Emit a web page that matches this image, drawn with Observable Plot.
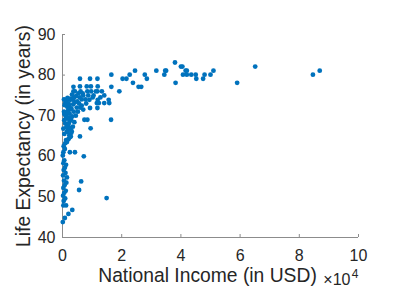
<!DOCTYPE html>
<html><head><meta charset="utf-8">
<script src="https://cdn.jsdelivr.net/npm/d3@7"></script>
<script src="https://cdn.jsdelivr.net/npm/@observablehq/plot@0.6"></script>
<style>
body{margin:0;background:#fff}
#c{width:407px;height:306px}
</style>
</head><body><div id="c"></div>
<script>
// National income (USD) and life expectancy (years)
const income = [
  100,800,2000,3300,1200,300,400,900,200,600,1100,300,700,1300,500,1500,200,1000,400,800,1200,300,600,100,
  300,2500,4200,7200,6300,5600,14900,800,400,900,1200,2500,600,1500,300,1800,900,600,2200,1300,500,2800,1600,900,
  3600,800,1700,2600,
  1500,2000,2300,3000,1800,2700,3500,2100,4000,2900,1600,3300,4500,2400,3800,1900,3000,4800,2200,3600,1400,4200,
  5000,2800,3900,4600,3200,5400,3700,4200,5600,6000,5200,6500,7000,5800,
  700,1100,1900,2400,1300,600,2100,1700,3100,500,
  5900,9300,11800,16500,16500,3700,6100,8400,9700,11300,11800,13300,14100,9100,11900,15600,14100,12300,11600,15800,
  9300,11800,16400,7400,8400,9500,5900,2800,5900,8200,9600,11900,8700,10500,6800,7800,10200,12800,6500,8000,7000,
  19200,20300,21600,22700,23800,24500,25700,26600,27800,28500,31700,34400,34700,35000,38000,38200,40000,40500,40700,
  41600,42000,42000,43500,45200,45000,47500,48000,50000,51000,59000,65100,84600,86900
];
const lifeExp = [
  43.8,44.8,45.8,46.8,47.9,47.9,49.0,49.6,50.3,51.0,51.5,52.2,52.9,53.5,54.0,54.8,55.3,55.9,56.6,57.2,57.9,58.3,59.0,60.2,
  61.0,61.0,61.0,60.0,53.8,51.7,49.7,61.8,62.5,63.2,64.0,64.7,65.5,66.0,66.8,67.5,68.1,68.9,69.5,70.2,71.0,71.6,72.2,73.0,
  73.9,73.9,73.9,73.9,
  63.5,64.2,65.2,65.8,66.5,67.0,67.3,68.0,68.4,69.0,69.3,69.8,70.0,70.5,71.0,71.3,71.8,72.0,72.5,72.8,73.2,73.3,
  73.5,74.2,74.5,74.8,75.2,75.5,76.0,76.0,73.0,72.0,71.0,74.0,75.0,74.5,
  72.6,69.8,70.8,68.6,67.2,70.4,72.9,74.4,66.2,74.0,
  79.1,79.1,79.1,80.1,77.1,77.1,76.0,76.0,76.0,76.0,76.0,76.0,75.0,73.9,73.9,73.9,73.1,73.1,73.1,73.1,
  71.9,71.9,69.0,69.0,69.0,66.9,64.9,64.9,77.2,77.2,77.2,77.2,75.0,75.0,75.5,74.0,74.5,74.5,72.5,73.0,71.5,
  76.0,79.1,79.1,80.1,78.1,81.1,77.1,77.1,80.1,79.1,81.1,80.1,81.1,81.1,83.1,78.1,82.1,82.1,80.1,
  81.1,81.1,80.1,80.1,79.1,80.1,79.1,80.1,80.1,81.1,78.1,82.1,80.1,81.1
];
const xTicks = [0, 2, 4, 6, 8, 10];       // in units of 10^4 USD
const yTicks = [40, 50, 60, 70, 80, 90];
const xLabel = "National Income (in USD)";
const yLabel = "Life Expectancy (in years)";

const data = income.map((v, i) => ({x: v / 1e4, y: lifeExp[i]}));

const W = 407, H = 306, mL = 62, mR = 49, mT = 34, mB = 69;
const innerW = W - mL - mR, innerH = H - mT - mB;
const axisColor = "#8c8c8c";
const textColor = "#262626";
const font = "Liberation Sans, Arial, Helvetica, sans-serif";

const chart = Plot.plot({
  width: W, height: H,
  marginLeft: mL, marginRight: mR, marginTop: mT, marginBottom: mB,
  style: {fontFamily: font, fontSize: "16px", color: textColor, background: "#fff", overflow: "visible"},
  x: {domain: [0, 10], ticks: xTicks},
  y: {domain: [40, 90], ticks: yTicks},
  marks: [
    Plot.axisX(xTicks, {tickSize: 0, tickPadding: 12, label: null, fontSize: 16, fill: textColor}),
    Plot.axisY(yTicks, {tickSize: 0, tickPadding: 7, label: null, fontSize: 16, fill: textColor}),
    Plot.tickX(xTicks, {x: d => d, insetTop: innerH - 3, stroke: axisColor}),
    Plot.tickY(yTicks, {y: d => d, insetRight: innerW - 3, stroke: axisColor}),
    Plot.ruleY([40], {stroke: axisColor}),
    Plot.ruleX([0], {stroke: axisColor}),
    Plot.dot(data, {x: "x", y: "y", r: 2.4, fill: "#0072BD", stroke: null}),
    Plot.text([xLabel], {text: d => d, frameAnchor: "bottom", textAnchor: "middle", dx: -3, dy: 44, fontSize: 19.3, fill: textColor}),
    Plot.text(["×10"], {text: d => d, frameAnchor: "bottom-right", textAnchor: "end", dx: -8, dy: 47, fontSize: 16, fill: textColor}),
    Plot.text(["4"], {text: d => d, frameAnchor: "bottom-right", textAnchor: "end", dx: 0, dy: 40, fontSize: 12, fill: textColor}),
    Plot.text([yLabel], {text: d => d, frameAnchor: "left", textAnchor: "middle", rotate: -90, dx: -39, fontSize: 19.3, fill: textColor})
  ]
});
document.getElementById("c").appendChild(chart);
</script>
</body></html>
